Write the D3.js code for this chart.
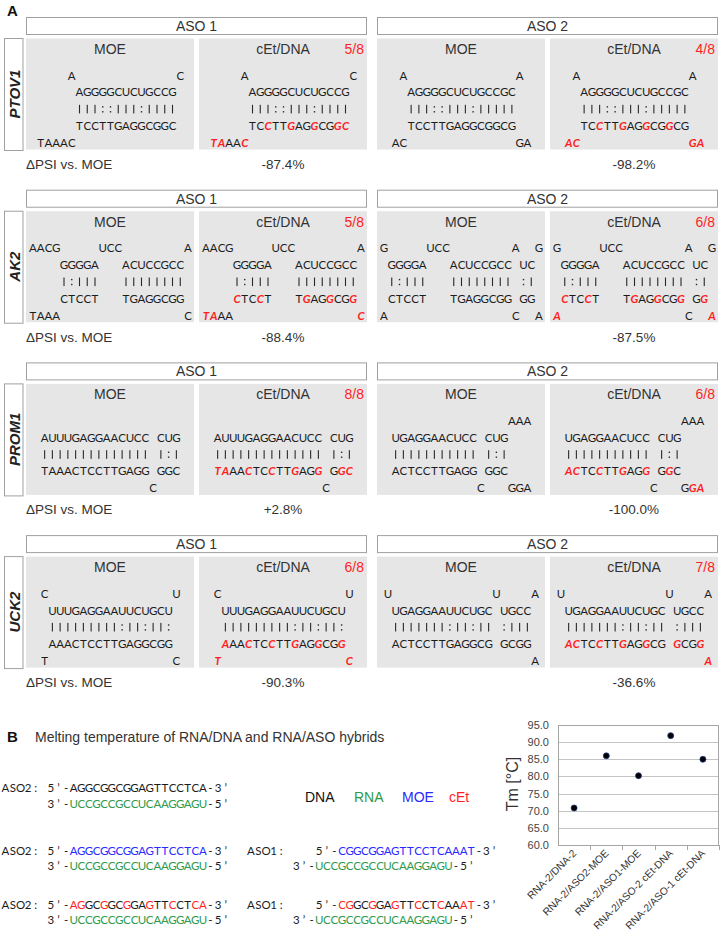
<!DOCTYPE html>
<html><head><meta charset="utf-8">
<script src="https://cdn.jsdelivr.net/npm/d3@7"></script>
<style>body{margin:0;background:#fff}</style>
</head><body>
<svg id="c" width="721" height="944" xmlns="http://www.w3.org/2000/svg"></svg>
<script>
// ---------------- DATA ----------------
const genes = ["PTOV1", "AK2", "PROM1", "UCK2"];
const asoLabels = ["ASO 1", "ASO 2"];
const chemLabels = ["MOE", "cEt/DNA"];
const cEtFractions = [["5/8", "4/8"], ["5/8", "6/8"], ["8/8", "6/8"], ["6/8", "7/8"]];
const deltaPSI = [[-87.4, -98.2], [-88.4, -87.5], [2.8, -100.0], [-90.3, -36.6]];
// duplex drawings (RNA top, ASO bottom); lowercase = cEt nucleotide (red in cEt/DNA panel)
const duplexPTOV1 = [
  ["    A             C", "     AGGGGCUCUGCCG", "     |||::|||:||||", "     TCcTTgAGgCGgc", "taAAc"],
  [" A              A", "  AGGGGCUCUGCCGC", "  |||::|||:|||||", "  TCcTTgAGgCGgCG", "ac              ga"]
];
const duplexAK2 = [
  ["AACG     UCC        A", "    GGGGA   ACUCCGCC", "    |:|||   ||||||||", "    cTCcT   TgAGgCGg", "taAA                c"],
  ["G     UCC        A  G", " GGGGA   ACUCCGCC UC", " |:|||   |||||||| :|", " cTCcT   TgAGgCGg Gg", "a                C  a"]
];
const duplexPROM1 = [
  ["", "AUUUGAGGAACUCC CUG", "|||||||||||||| |:|", "taAAcTCcTTgAGg Ggc", "              C"],
  ["               AAA", "UGAGGAACUCC CUG", "||||||||||| |:|", "acTCcTTgAGg GgC", "           C   Gga"]
];
const duplexUCK2 = [
  ["C                U", " UUUGAGGAAUUCUGCU", " |||||||||:||:||:", " aAAcTCcTTgAGgCGg", "t                c"],
  ["U             U    A", " UGAGGAAUUCUGC UGCC", " |||||||:||:|| :|||", " acTCcTTgAGgCG gCGg", "                   a"]
];
const duplexes = [duplexPTOV1, duplexAK2, duplexPROM1, duplexUCK2];

// Panel B: sequences (lowercase in cEt strands = cEt, uppercase = DNA)
const rna2 = "UCCGCCGCCUCAAGGAGU";
const aso2DNA = "AGGCGGCGGAGTTCCTCA";
const aso2MOE = "AGGCGGCGGAGTTCCTCA";
const aso1MOE = "CGGCGGAGTTCCTCAAAT";
const aso2cEt = "agGCgGCgGAgTTcCTca";
const aso1cEt = "cgGCgGAgTTcCTcAAat";
const legendLabels = ["DNA", "RNA", "MOE", "cEt"];

const tmLabels = ["RNA-2/DNA-2", "RNA-2/ASO2-MOE", "RNA-2/ASO1-MOE", "RNA-2/ASO-2 cEt-DNA", "RNA-2/ASO-1 cEt-DNA"];
const tmValues = [70.8, 86.0, 80.2, 91.9, 85.0];
const tmTicks = [60, 65, 70, 75, 80, 85, 90, 95];

// ---------------- DRAW ----------------
const svg = d3.select("#c");
const RED = "#ff1f1f", GREEN = "#2e9a4a", BLUE = "#2a2aff", TXT = "#333", SEQC = "#1c1c1c";
const SANS = "'Liberation Sans', Arial, sans-serif";
const SEQF = "Lato, 'Open Sans', sans-serif";

svg.append("text").attr("x", 7).attr("y", 16).attr("font-family", SANS)
  .attr("font-weight", "bold").attr("font-size", 15).attr("fill", "#111").text("A");

const fmtPSI = d => (d > 0 ? "+" : "") + d.toFixed(1) + "%";

genes.forEach((gene, r) => {
  const h = 17 + r * 172.7;
  const pTop = h + 21.5, pH = 111;
  // gene label box
  svg.append("rect").attr("x", 4.5).attr("y", pTop).attr("width", 18.5).attr("height", pH + 1)
    .attr("fill", "#fff").attr("stroke", "#a0a0a0").attr("stroke-width", 1);
  svg.append("text").attr("transform", `translate(14.5,${pTop + pH / 2}) rotate(-90)`)
    .attr("text-anchor", "middle").attr("dy", "0.36em").attr("font-family", SANS)
    .attr("font-weight", "bold").attr("font-style", "italic").attr("font-size", 15)
    .attr("fill", "#222").text(gene);

  asoLabels.forEach((aso, g) => {
    const gx = 26 + g * 351;
    svg.append("rect").attr("x", gx + 0.5).attr("y", h + 0.5).attr("width", 340).attr("height", 17)
      .attr("fill", "#fff").attr("stroke", "#a0a0a0");
    svg.append("text").attr("x", gx + 170.5).attr("y", h + 9).attr("dy", "0.36em")
      .attr("text-anchor", "middle").attr("font-family", SANS).attr("font-size", 14)
      .attr("fill", TXT).text(aso);

    chemLabels.forEach((chem, c) => {
      const px = gx + c * 173;
      svg.append("rect").attr("x", px).attr("y", pTop).attr("width", 168).attr("height", pH)
        .attr("fill", "#e6e6e7");
      svg.append("text").attr("x", px + 84).attr("y", pTop + 10.5).attr("dy", "0.36em")
        .attr("text-anchor", "middle").attr("font-family", SANS).attr("font-size", 14)
        .attr("fill", TXT).text(chem);
      if (c === 1) {
        svg.append("text").attr("x", px + 165).attr("y", pTop + 10.5).attr("dy", "0.36em")
          .attr("text-anchor", "end").attr("font-family", SANS).attr("font-size", 14)
          .attr("fill", RED).text(cEtFractions[r][g]);
      }
      const lines = duplexes[r][g];
      const maxLen = d3.max(lines, l => l.length);
      const cw = 7.75;
      const col0 = px + 84.5 - (maxLen - 1) / 2 * cw;
      const gT = svg.append("g").attr("font-family", SEQF).attr("font-size", 11.5);
      lines.forEach((ln, li) => {
        const yy = pTop + 37 + li * 16.8;
        const chars = [...ln].map((ch, k) => ({ ch, k })).filter(d => d.ch !== " ");
        // base-pair symbols drawn as marks
        const bars = chars.filter(d => d.ch === "|");
        const dots = chars.filter(d => d.ch === ":");
        gT.selectAll(null).data(bars).join("rect")
          .attr("x", d => col0 + d.k * cw - 0.55).attr("y", yy - 4.3)
          .attr("width", 1.1).attr("height", 8.6).attr("fill", "#2a2a2a");
        gT.selectAll(null).data(dots.flatMap(d => [{ k: d.k, o: -2.9 }, { k: d.k, o: 2.0 }])).join("rect")
          .attr("x", d => col0 + d.k * cw - 0.7).attr("y", d => yy + d.o)
          .attr("width", 1.4).attr("height", 1.4).attr("fill", "#2a2a2a");
        gT.selectAll(null).data(chars.filter(d => d.ch !== "|" && d.ch !== ":")).join("text")
          .attr("x", d => col0 + d.k * cw).attr("y", yy).attr("dy", "0.36em")
          .attr("text-anchor", "middle")
          .each(function (d) {
            const mod = c === 1 && d.ch !== d.ch.toUpperCase();
            d3.select(this).attr("fill", mod ? RED : SEQC)
              .attr("font-weight", mod ? "bold" : null)
              .attr("font-style", mod ? "italic" : null)
              .text(d.ch.toUpperCase());
          });
      });
    });
    svg.append("text").attr("x", gx + 173 + 84).attr("y", h + 147).attr("dy", "0.36em")
      .attr("text-anchor", "middle").attr("font-family", SANS).attr("font-size", 13.5)
      .attr("fill", TXT).text(fmtPSI(deltaPSI[r][g]));
  });
  svg.append("text").attr("x", 26).attr("y", h + 147).attr("dy", "0.36em")
    .attr("font-family", SANS).attr("font-size", 13.5).attr("fill", TXT).text("\u0394PSI vs. MOE");
});

// ---------------- PANEL B ----------------
svg.append("text").attr("x", 7).attr("y", 737).attr("dy", "0.36em").attr("font-family", SANS)
  .attr("font-weight", "bold").attr("font-size", 15).attr("fill", "#111").text("B");
svg.append("text").attr("x", 35).attr("y", 737).attr("dy", "0.36em").attr("font-family", SANS)
  .attr("font-size", 14).attr("fill", TXT).text("Melting temperature of RNA/DNA and RNA/ASO hybrids");

const legendColors = ["#111", GREEN, BLUE, RED];
const legendX = [305, 354, 402, 449];
legendLabels.forEach((l, i) => {
  svg.append("text").attr("x", legendX[i]).attr("y", 797).attr("dy", "0.36em")
    .attr("font-family", SANS).attr("font-size", 14).attr("fill", legendColors[i]).text(l);
});

const pcw = 7.6;
function seqLine(x0, y, segments) {
  let chars = [];
  segments.forEach(([t, colFn]) => { [...t].forEach(ch => chars.push({ ch, col: colFn(ch) })); });
  const gg = svg.append("g").attr("font-family", SEQF).attr("font-size", 11.5);
  gg.selectAll(null).data(chars.map((d, k) => ({ ...d, k })).filter(d => d.ch !== " ")).join("text")
    .attr("x", d => x0 + pcw / 2 + d.k * pcw).attr("y", y).attr("dy", "0.36em")
    .attr("text-anchor", "middle").attr("fill", d => d.col).text(d => d.ch.toUpperCase());
}
const K = () => SEQC, G = () => GREEN, B = () => BLUE;
const CET = ch => ch !== ch.toUpperCase() ? RED : SEQC;
const rowY = [[788, 804], [851, 866], [905, 920]];
const asoStrands2 = [[aso2DNA, K], [aso2MOE, B], [aso2cEt, CET]];
const asoStrands1 = [null, [aso1MOE, B], [aso1cEt, CET]];
rowY.forEach((yy, i) => {
  seqLine(1.5, yy[0], [["ASO2: 5\u2019-", K], asoStrands2[i], ["-3\u2019", K]]);
  seqLine(1.5, yy[1], [["      3\u2019-", K], [rna2, G], ["-5\u2019", K]]);
  if (asoStrands1[i]) {
    seqLine(247, yy[0], [["ASO1:    5\u2019-", K], asoStrands1[i], ["-3\u2019", K]]);
    seqLine(247, yy[1], [["      3\u2019-", K], [rna2, G], ["-5\u2019", K]]);
  }
});

// ---------------- Tm chart ----------------
const x = d3.scaleBand().domain(tmLabels).range([558, 719]);
const y = d3.scaleLinear().domain([60, 95]).range([845, 725]);
svg.append("g").selectAll("line").data(tmTicks).join("line")
  .attr("x1", 558).attr("x2", 719).attr("y1", d => Math.round(y(d)) + 0.5).attr("y2", d => Math.round(y(d)) + 0.5)
  .attr("stroke", "#c4c4c4").attr("stroke-width", 1);
svg.append("rect").attr("x", 558.5).attr("y", y(95) + 0.5).attr("width", 160).attr("height", y(60) - y(95))
  .attr("fill", "none").attr("stroke", "#a6a6a6");
const ya = svg.append("g").attr("transform", "translate(558,0)")
  .call(d3.axisLeft(y).tickValues(tmTicks).tickFormat(d3.format(".1f")).tickSize(0).tickPadding(9));
ya.select(".domain").remove();
ya.selectAll("text").attr("font-family", SANS).attr("font-size", 11).attr("fill", "#444");
const bounds = tmLabels.map(l => x(l) + x.bandwidth());
svg.append("g").selectAll("line").data(bounds).join("line")
  .attr("x1", d => Math.round(d) + 0.5).attr("x2", d => Math.round(d) + 0.5)
  .attr("y1", y(60)).attr("y2", y(60) + 5).attr("stroke", "#a6a6a6");
svg.append("g").selectAll("text").data(tmLabels).join("text")
  .attr("transform", d => `translate(${x(d) + x.bandwidth() / 2 + 3},${y(60) + 9}) rotate(-45)`)
  .attr("text-anchor", "end").attr("font-family", SANS).attr("font-size", 10.3)
  .attr("fill", "#333").text(d => d);
svg.append("g").selectAll("circle").data(tmValues).join("circle")
  .attr("cx", (d, i) => x(tmLabels[i]) + x.bandwidth() / 2).attr("cy", d => y(d)).attr("r", 3)
  .attr("fill", "#000").attr("stroke", "#1f3a80").attr("stroke-width", 0.8);
svg.append("text").attr("transform", `translate(512,784) rotate(-90)`).attr("text-anchor", "middle")
  .attr("dy", "0.36em").attr("font-family", SANS).attr("font-size", 16).attr("fill", TXT).text("Tm [\u00B0C]");
</script>
</body></html>
